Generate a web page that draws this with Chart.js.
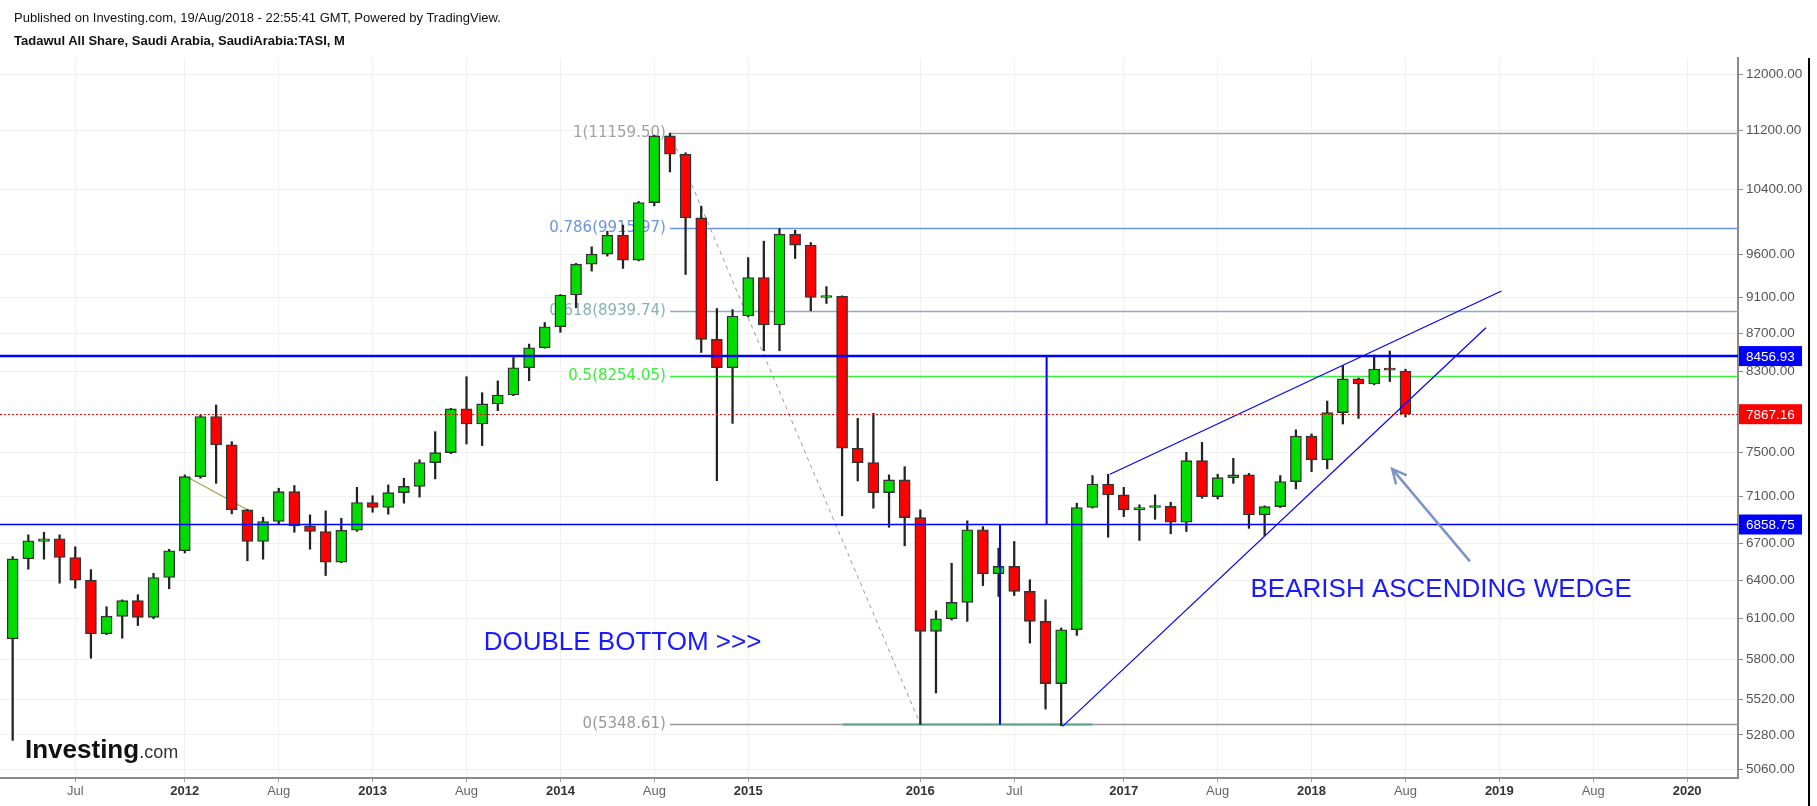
<!DOCTYPE html>
<html>
<head>
<meta charset="utf-8">
<script src="https://cdn.jsdelivr.net/npm/chart.js@4.4.1/dist/chart.umd.min.js"></script>
<style>
  html, body { margin: 0; padding: 0; background: #fff; }
  #wrap { position: relative; width: 1817px; height: 806px; }
  #tasi { position: absolute; left: 0; top: 0; }
  .hdr { position: absolute; left: 14px; font-family: "Liberation Sans", Arial, sans-serif; font-size: 13px; color: #111; white-space: nowrap; }
</style>
</head>
<body>
<div id="wrap">
  <canvas id="tasi" width="1817" height="806"></canvas>
  <div class="hdr" style="top:10px;">Published on Investing.com, 19/Aug/2018 - 22:55:41 GMT, Powered by TradingView.</div>
  <div class="hdr" style="top:33px;font-weight:bold;">Tadawul All Share, Saudi Arabia, SaudiArabia:TASI, M</div>
</div>
<script>
// monthly candles, first bar = Mar 2011, last bar = Aug 2018
var opens = [5949, 6572, 6715, 6738, 6583, 6400, 5987, 6118, 6239, 6110,
    6421, 6638, 7279, 7845, 7572, 6985, 6715, 6884, 7145, 6847,
    6799, 6545, 6810, 7049, 7005, 7136, 7192, 7408, 7500, 7919,
    7772, 7968, 8057, 8335, 8545, 8771, 9124, 9481, 9600, 9829,
    9529, 10236, 11120, 10870, 10043, 8634, 8335, 8889, 9325, 8790,
    9841, 9708, 9096, 9110, 7541, 7408, 7136, 7250, 6918, 6005,
    6100, 6226, 6814, 6451, 6510, 6311, 6080, 5627, 6017, 7005,
    7213, 7116, 6985, 7005, 7015, 6878, 7426, 7101, 7271, 7295,
    6941, 7013, 7235, 7657, 7433, 7882, 8220, 8168, 8322, 8301];
var highs = [6590, 6771, 6793, 6771, 6671, 6484, 6192, 6245, 6285, 6455,
    6650, 7295, 7860, 7958, 7603, 6990, 6921, 7175, 7199, 6941,
    6976, 6912, 7183, 7108, 7205, 7265, 7433, 7698, 7925, 8243,
    8080, 8200, 8442, 8584, 8818, 9130, 9490, 9688, 9878, 9953,
    10250, 11130, 11159.5, 10890, 10190, 8972, 8960, 9559, 9756, 9910,
    9890, 9739, 9220, 9115, 7826, 7875, 7295, 7370, 6985, 6161,
    6536, 6890, 6841, 6660, 6715, 6403, 6246, 6030, 7043, 7289,
    7301, 7183, 7029, 7116, 7051, 7503, 7596, 7301, 7447, 7309,
    7020, 7289, 7715, 7676, 7997, 8357, 8230, 8468, 8510, 8320];
var lows = [5244, 6488, 6569, 6376, 6337, 5808, 5980, 5954, 6049, 6100,
    6332, 6620, 7265, 7219, 6950, 6556, 6569, 6864, 6793, 6651,
    6437, 6540, 6800, 6964, 6947, 7043, 7096, 7259, 7490, 7581,
    7566, 7902, 8050, 8202, 8540, 8710, 8980, 9400, 9576, 9431,
    9520, 10194, 10633, 9360, 8495, 7243, 7778, 8880, 8513, 8513,
    9548, 8947, 9029, 6933, 7240, 6999, 6835, 6679, 5348.61, 5562,
    6090, 6080, 6357, 6271, 6279, 5918, 5452, 5340, 5975, 7000,
    6751, 6926, 6724, 6903, 6780, 6799, 7086, 7080, 7219, 6826,
    6765, 7005, 7169, 7325, 7350, 7772, 7826, 8160, 8193, 7840];
var closes = [6572, 6721, 6738, 6583, 6400, 5987, 6120, 6239, 6110, 6421,
    6638, 7279, 7845, 7572, 6985, 6715, 6884, 7145, 6847, 6799,
    6545, 6810, 7049, 7005, 7136, 7192, 7408, 7500, 7919, 7772,
    7968, 8057, 8335, 8545, 8771, 9124, 9481, 9600, 9829, 9529,
    10236, 11120, 10870, 10043, 8634, 8335, 8889, 9325, 8790, 9841,
    9708, 9096, 9110, 7541, 7408, 7136, 7250, 6918, 6005, 6100,
    6226, 6814, 6451, 6510, 6311, 6080, 5627, 6017, 7005, 7213,
    7116, 6985, 7005, 7015, 6878, 7426, 7101, 7271, 7295, 6941,
    7013, 7235, 7657, 7433, 7882, 8220, 8168, 8322, 8310, 7867.16];

var xTickIdx = [4, 11, 17, 23, 29, 35, 41, 47, 58, 64, 71, 77, 83, 89, 95, 101, 107];
var xTickLabels = ['Jul', '2012', 'Aug', '2013', 'Aug', '2014', 'Aug', '2015', '2016', 'Jul', '2017', 'Aug', '2018', 'Aug', '2019', 'Aug', '2020'];
var yTicks = [5060, 5280, 5520, 5800, 6100, 6400, 6700, 7100, 7500, 7900, 8300, 8700, 9100, 9600, 10400, 11200, 12000];

// drawings on the chart
var fibLevels = [1, 0.786, 0.618, 0.5, 0];
var fibPrices = [11159.50, 9915.97, 8939.74, 8254.05, 5348.61];
var fibColors = ['#a2a2a2', '#6a95e2', '#86b1b8', '#3aee3a', '#999999'];
var hLines = [8456.93, 6858.75];
var lastPrice = 7867.16;

var SANS = '"Liberation Sans", Arial, sans-serif';
var GREEN = '#00dc00';
var RED = '#ff0000';

function isYear(c) {
    if (!c || !c.tick) return false;
    return /^\d{4}$/.test(xTickLabels[xTickIdx.indexOf(c.tick.value)] || '');
}

var drawings = {
    id: 'drawings',
    beforeDatasetsDraw: function (chart) {
        var c = chart.ctx, x = chart.scales.x, y = chart.scales.y, a = chart.chartArea;
        c.save();
        c.beginPath();
        c.rect(a.left, a.top, a.right - a.left, a.bottom - a.top);
        c.clip();
        // fib retracement
        c.font = '15px "DejaVu Sans", Verdana, sans-serif';
        c.textAlign = 'right';
        c.textBaseline = 'middle';
        for (var i = 0; i < fibLevels.length; i++) {
            var fy = Math.round(y.getPixelForValue(fibPrices[i])) + 0.5;
            c.strokeStyle = fibColors[i];
            c.lineWidth = 1.5;
            c.beginPath();
            c.moveTo(x.getPixelForValue(42), fy);
            c.lineTo(a.right, fy);
            c.stroke();
            c.fillStyle = fibColors[i];
            c.fillText(fibLevels[i] + '(' + fibPrices[i].toFixed(2) + ')', x.getPixelForValue(41.74), fy);
        }
        // double bottom support
        c.strokeStyle = '#5e9f8f';
        c.lineWidth = 2;
        c.beginPath();
        c.moveTo(x.getPixelForValue(53.05), y.getPixelForValue(5348.61));
        c.lineTo(x.getPixelForValue(69), y.getPixelForValue(5348.61));
        c.stroke();
        // fib trend line
        c.strokeStyle = '#9a9a9a';
        c.lineWidth = 1;
        c.setLineDash([4, 4]);
        c.beginPath();
        c.moveTo(x.getPixelForValue(42), y.getPixelForValue(11159.5));
        c.lineTo(x.getPixelForValue(58), y.getPixelForValue(5348.61));
        c.stroke();
        c.setLineDash([]);
        // small olive trend line
        c.strokeStyle = '#a8a04a';
        c.lineWidth = 1.2;
        c.beginPath();
        c.moveTo(x.getPixelForValue(11.3), y.getPixelForValue(7265));
        c.lineTo(x.getPixelForValue(15), y.getPixelForValue(6985));
        c.stroke();
        c.restore();
    },
    afterDatasetsDraw: function (chart) {
        var c = chart.ctx, x = chart.scales.x, y = chart.scales.y, a = chart.chartArea;
        c.save();
        c.beginPath();
        c.rect(a.left, a.top, a.right - a.left, a.bottom - a.top);
        c.clip();
        // horizontal levels
        c.strokeStyle = '#0000ff';
        c.lineWidth = 2.5;
        c.beginPath();
        c.moveTo(a.left, y.getPixelForValue(hLines[0]));
        c.lineTo(a.right, y.getPixelForValue(hLines[0]));
        c.stroke();
        c.lineWidth = 1.5;
        c.beginPath();
        c.moveTo(a.left, y.getPixelForValue(hLines[1]));
        c.lineTo(a.right, y.getPixelForValue(hLines[1]));
        c.stroke();
        // measured move verticals
        c.lineWidth = 2;
        c.beginPath();
        c.moveTo(x.getPixelForValue(66.07), y.getPixelForValue(hLines[0]));
        c.lineTo(x.getPixelForValue(66.07), y.getPixelForValue(hLines[1]));
        c.moveTo(x.getPixelForValue(63.09), y.getPixelForValue(hLines[1]));
        c.lineTo(x.getPixelForValue(63.09), y.getPixelForValue(5348.61));
        c.stroke();
        // wedge
        c.lineWidth = 1.2;
        c.beginPath();
        c.moveTo(x.getPixelForValue(70.12), y.getPixelForValue(7301));
        c.lineTo(x.getPixelForValue(95.14), y.getPixelForValue(9169));
        c.moveTo(x.getPixelForValue(67.09), y.getPixelForValue(5336));
        c.lineTo(x.getPixelForValue(94.14), y.getPixelForValue(8760));
        c.stroke();
        // last price
        var ly = Math.round(y.getPixelForValue(lastPrice)) + 0.5;
        c.strokeStyle = RED;
        c.lineWidth = 1;
        c.setLineDash([2, 2]);
        c.beginPath();
        c.moveTo(a.left, ly);
        c.lineTo(a.right, ly);
        c.stroke();
        c.setLineDash([]);
        // arrow
        var tx = x.getPixelForValue(93.12), ty = y.getPixelForValue(6551);
        var hx = x.getPixelForValue(88.15), hy = y.getPixelForValue(7350);
        var ang = Math.atan2(hy - ty, hx - tx);
        c.strokeStyle = '#7b94c9';
        c.lineWidth = 2.5;
        c.beginPath();
        c.moveTo(tx, ty);
        c.lineTo(hx, hy);
        c.moveTo(hx - 16 * Math.cos(ang - 0.45), hy - 16 * Math.sin(ang - 0.45));
        c.lineTo(hx, hy);
        c.lineTo(hx - 16 * Math.cos(ang + 0.45), hy - 16 * Math.sin(ang + 0.45));
        c.stroke();
        // texts
        c.fillStyle = '#1a1aff';
        c.font = '26px ' + SANS;
        c.textAlign = 'left';
        c.textBaseline = 'middle';
        c.fillText('DOUBLE BOTTOM >>>', x.getPixelForValue(30.1), y.getPixelForValue(5923));
        c.fillText('BEARISH ASCENDING WEDGE', x.getPixelForValue(79.1), y.getPixelForValue(6326));
        // watermark
        c.textBaseline = 'alphabetic';
        c.fillStyle = '#111';
        c.font = 'bold 26px ' + SANS;
        c.fillText('Investing', a.left + 25, a.bottom - 20);
        var w = c.measureText('Investing').width;
        c.font = '18px ' + SANS;
        c.fillStyle = '#333';
        c.fillText('.com', a.left + 25 + w, a.bottom - 20);
        c.restore();
    },
    afterDraw: function (chart) {
        var c = chart.ctx, y = chart.scales.y, a = chart.chartArea;
        var boxes = [[hLines[0], '#0000ff'], [lastPrice, RED], [hLines[1], '#0000ff']];
        c.save();
        c.font = '13.5px ' + SANS;
        c.textAlign = 'left';
        c.textBaseline = 'middle';
        boxes.forEach(function (b) {
            var by = y.getPixelForValue(b[0]);
            c.fillStyle = b[1];
            c.fillRect(a.right + 1, by - 10, 63, 20);
            c.fillStyle = '#fff';
            c.fillText(b[0].toFixed(2), a.right + 8, by + 1);
        });
        c.fillStyle = '#000';
        c.fillRect(a.right + 70, a.top, 2, chart.height - a.top);
        c.restore();
    }
};

var ctx = document.getElementById('tasi');
var tasiChart = new Chart(ctx, {
    type: 'bar',
    data: {
        datasets: [{
            label: 'wick',
            data: lows.map(function (l, i) { return { x: i, y: [l, highs[i]] }; }),
            backgroundColor: '#222',
            barThickness: 1.6,
            grouped: false,
            order: 1
        }, {
            label: 'TASI',
            data: opens.map(function (o, i) { return { x: i, y: [o, closes[i]] }; }),
            backgroundColor: function (c) {
                return closes[c.dataIndex] >= opens[c.dataIndex] ? GREEN : RED;
            },
            borderColor: '#333',
            borderWidth: 1.4,
            borderSkipped: false,
            barThickness: 11,
            minBarLength: 2,
            grouped: false,
            order: 0
        }]
    },
    options: {
        responsive: false,
        animation: false,
        devicePixelRatio: 1,
        layout: { padding: { top: 58, left: 0, right: 0, bottom: 0 } },
        plugins: { legend: { display: false }, tooltip: { enabled: false } },
        scales: {
            x: {
                type: 'linear',
                min: -0.81,
                max: 110.25,
                offset: false,
                grid: { offset: false, color: '#f1f1f1', tickColor: '#999', tickLength: 4 },
                border: { color: '#8c8c8c', width: 2 },
                afterBuildTicks: function (s) {
                    s.ticks = xTickIdx.map(function (v) { return { value: v }; });
                },
                afterFit: function (s) {
                    s.height = 28;
                    s.paddingLeft = 0;
                    s.paddingRight = 0;
                },
                ticks: {
                    autoSkip: false,
                    maxRotation: 0,
                    padding: 2,
                    callback: function (v) { return xTickLabels[xTickIdx.indexOf(v)]; },
                    color: function (c) { return isYear(c) ? '#333' : '#666'; },
                    font: function (c) {
                        return { family: SANS, size: 13, weight: isYear(c) ? 'bold' : 'normal' };
                    }
                }
            },
            y: {
                type: 'logarithmic',
                position: 'right',
                min: 5004,
                max: 12252,
                grid: { color: '#f1f1f1', tickColor: '#888', tickLength: 5 },
                border: { color: '#8c8c8c', width: 2 },
                afterBuildTicks: function (s) {
                    s.ticks = yTicks.map(function (v) { return { value: v }; });
                },
                afterFit: function (s) {
                    s.width = 79;
                    s.paddingTop = 0;
                    s.paddingBottom = 0;
                },
                ticks: {
                    autoSkip: false,
                    padding: 3,
                    color: '#555',
                    font: { family: SANS, size: 13.5 },
                    callback: function (v) { return Number(v).toFixed(2); }
                }
            }
        }
    },
    plugins: [drawings]
});
</script>
</body>
</html>
